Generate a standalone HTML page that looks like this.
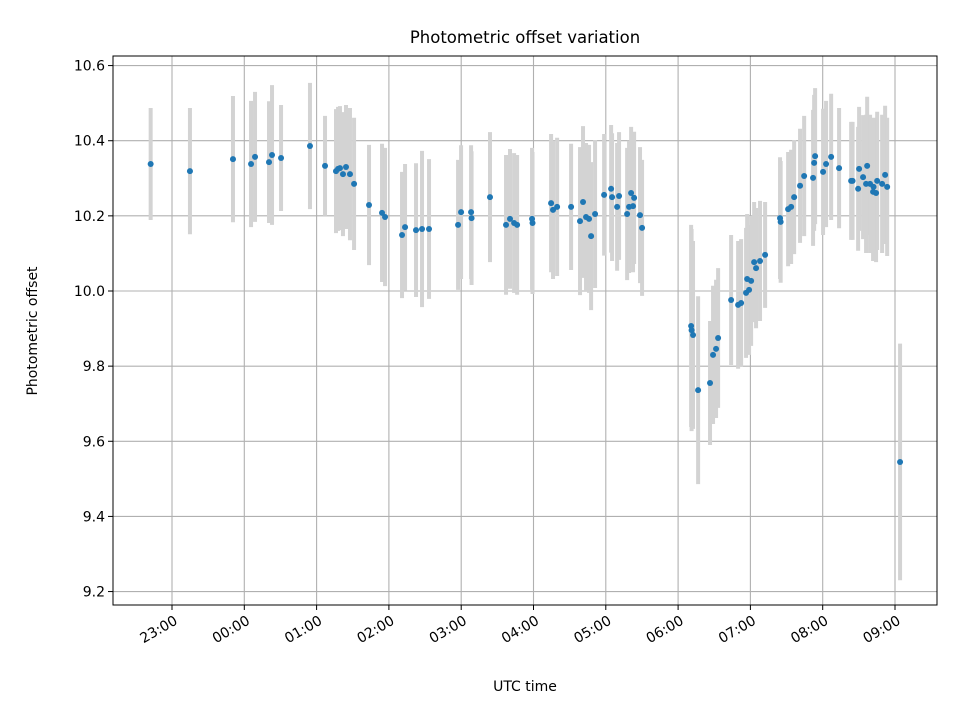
<!DOCTYPE html>
<html><head><meta charset="utf-8"><style>
html,body{margin:0;padding:0;background:#fff;}
svg{display:block;font-family:"DejaVu Sans","Liberation Sans",sans-serif;}
</style></head><body>
<svg id="chart" width="960" height="720" viewBox="0 0 960 720">
<rect x="0" y="0" width="960" height="720" fill="#fff"/>
<text x="525" y="43" font-size="16.5" text-anchor="middle">Photometric offset variation</text>
<text x="525" y="691" font-size="14" text-anchor="middle">UTC time</text>
<text transform="translate(37,331) rotate(-90)" font-size="14" text-anchor="middle">Photometric offset</text>
<g id="grid"></g><g id="bars"></g><g id="pts"></g><g id="ticks"></g>
<rect x="113" y="56" width="824" height="549" fill="none" stroke="#000" stroke-width="1"/>
</svg>
<script>
// minutes after 23:00 UTC
const times=[-17.7,14.9,50.6,65.6,68.9,80.5,83.0,90.5,114.5,127.0,136.1,137.8,139.4,141.9,144.4,147.7,151.1,163.5,174.3,176.8,190.9,193.4,202.5,207.5,213.3,237.4,239.9,248.2,248.6,263.9,277.2,280.5,283.9,286.4,298.8,299.2,314.6,316.2,319.6,331.2,341.1,338.6,343.6,346.1,347.8,351.1,358.6,364.4,365.2,371.0,369.4,377.7,379.3,381.0,383.5,382.6,388.4,390.1,430.8,431.2,432.4,436.6,446.5,449.0,451.5,453.2,464.0,469.8,472.3,476.4,478.9,477.3,480.6,483.1,484.7,488.0,492.2,504.6,505.1,511.3,513.8,516.3,521.2,524.6,532.0,532.9,533.7,540.3,542.8,547.0,553.6,563.6,564.8,569.4,570.2,573.5,576.9,576.0,579.3,581.8,582.2,584.3,585.2,589.3,591.8,593.5,604.2];
const values=[10.338,10.319,10.351,10.338,10.357,10.343,10.362,10.354,10.386,10.333,10.319,10.325,10.327,10.311,10.330,10.311,10.285,10.229,10.208,10.197,10.149,10.170,10.162,10.165,10.165,10.176,10.210,10.210,10.194,10.250,10.176,10.192,10.181,10.176,10.192,10.181,10.234,10.216,10.224,10.224,10.237,10.186,10.197,10.192,10.146,10.205,10.256,10.272,10.250,10.253,10.224,10.205,10.224,10.261,10.248,10.226,10.202,10.168,9.907,9.896,9.883,9.736,9.755,9.830,9.846,9.875,9.976,9.963,9.968,9.995,10.003,10.032,10.027,10.077,10.061,10.080,10.096,10.194,10.184,10.218,10.224,10.250,10.280,10.306,10.301,10.341,10.359,10.317,10.338,10.357,10.327,10.293,10.293,10.272,10.325,10.303,10.333,10.285,10.285,10.264,10.277,10.261,10.293,10.285,10.309,10.277,9.545];
const errors=[0.149,0.168,0.168,0.168,0.173,0.162,0.186,0.141,0.168,0.133,0.165,0.165,0.165,0.165,0.165,0.176,0.176,0.160,0.184,0.184,0.168,0.168,0.178,0.208,0.186,0.173,0.178,0.178,0.178,0.173,0.186,0.186,0.186,0.186,0.189,0.189,0.184,0.184,0.184,0.168,0.202,0.197,0.197,0.197,0.197,0.197,0.162,0.170,0.170,0.170,0.170,0.176,0.176,0.176,0.176,0.176,0.181,0.181,0.269,0.269,0.250,0.250,0.165,0.184,0.184,0.186,0.173,0.170,0.170,0.173,0.173,0.173,0.173,0.160,0.160,0.160,0.141,0.162,0.162,0.152,0.152,0.152,0.152,0.160,0.181,0.181,0.181,0.168,0.168,0.168,0.160,0.157,0.157,0.165,0.165,0.165,0.184,0.184,0.184,0.184,0.184,0.184,0.184,0.184,0.184,0.184,0.315];
const xTickMinutes=[0,60,120,180,240,300,360,420,480,540,600];
const xTickLabels=["23:00","00:00","01:00","02:00","03:00","04:00","05:00","06:00","07:00","08:00","09:00"];
const yTicks=[9.2,9.4,9.6,9.8,10.0,10.2,10.4,10.6];

const X0=113,X1=937,Y0=56,Y1=605;
function xs(m){return 172+m*72.3/60;}
function ys(v){return 291-(v-10)*375.7;}
const NS="http://www.w3.org/2000/svg";
function mk(parent,tag,attrs){const e=document.createElementNS(NS,tag);for(const k in attrs)e.setAttribute(k,attrs[k]);document.getElementById(parent).appendChild(e);return e;}

xTickMinutes.forEach((m,i)=>{
  const x=xs(m);
  const g=mk('grid','line',{x1:x,x2:x,y1:Y0,y2:Y1,stroke:'#b0b0b0','stroke-width':1.1});
  
  
  const t=mk('ticks','line',{x1:x,x2:x,y1:Y1,y2:Y1+5,stroke:'#000'});
  
  
  const ax=x+4, ay=Y1+19;
  const l=mk('ticks','text',{x:ax,y:ay,'font-size':14,'text-anchor':'end',transform:`rotate(-30 ${ax} ${ay-5})`});
  l.textContent=xTickLabels[i];
  
  
});
yTicks.forEach(v=>{
  const y=ys(v);
  const g=mk('grid','line',{x1:X0,x2:X1,y1:y,y2:y,stroke:'#b0b0b0','stroke-width':1.1});
  
  
  const t=mk('ticks','line',{x1:X0-5,x2:X0,y1:y,y2:y,stroke:'#000'});
  
  
  const l=mk('ticks','text',{x:X0-8,y:y+5,'font-size':14,'text-anchor':'end'});
  l.textContent=v.toFixed(1);
  
  
});
times.forEach((m,i)=>{
  const x=xs(m);
  const b=mk('bars','line',{x1:x,x2:x,y1:ys(values[i]+errors[i]),y2:ys(values[i]-errors[i]),stroke:'#d3d3d3','stroke-width':4});
  
  
});
times.forEach((m,i)=>{
  const p=mk('pts','circle',{cx:xs(m),cy:ys(values[i]),r:3,fill:'#1f77b4'});
  
  
});
</script>
</body></html>
